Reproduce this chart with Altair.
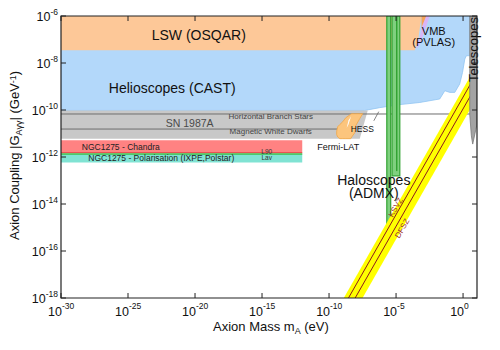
import altair as alt
import numpy as np
import pandas as pd

FONT = "Liberation Sans"
W, H = 416, 282
LOGM_MAX = 1.04

# ---------------- axis tick labels ----------------
x_tick_exp = [-30, -25, -20, -15, -10, -5, 0]
y_tick_exp = [-6, -8, -10, -12, -14, -16, -18]
tick_base = "10"

# ---------------- regions: log10(m_A / eV), log10(g / GeV^-1) ----------------
# Helioscopes (CAST)
cast_m = [-30, -7.34, -6.22, -4.72, -3.23, -1.74, -1.36, -0.99, -0.62, -0.25, -0.04, 0.13, 0.25, 0.50]
cast_hi = [-6] * 14
cast_lo = [-10.02, -10.02, -9.90, -9.77, -9.68, -9.53, -9.18, -9.25, -9.25, -8.89, -8.40, -7.83, -7.69, -7.69]
# LSW (OSQAR)
osqar_m = [-30, -3.60, -3.36, -3.10]
osqar_hi = [-6, -6, -6, -6]
osqar_lo = [-7.46, -7.46, -7.05, -6.0]
# darker LSW sliver
alps_m = [-3.10, -3.00, -2.75]
alps_hi = [-6, -6, -6]
alps_lo = [-6.50, -6.35, -6.0]
# VMB (PVLAS)
vmb_m = [-3.48, -3.23, -2.91, -2.48]
vmb_hi = [-7.33, -6.90, -6.0, -6.0]
vmb_lo = [-7.40, -7.20, -6.70, -6.0]
# SN 1987A
sn_m = [-30, -7.71, -7.11]
sn_hi = [-10.02, -10.02, -10.02]
sn_lo = [-11.22, -11.22, -10.02]
# star limits (lines)
hb_g = -10.17
mwd_g = -10.81
mwd_m_end = -9.2
# NGC1275
chandra_m = [-30, -12.0]
chandra_g = [-11.29, -11.82]
pol_g = [-11.87, -12.23]
# Fermi-LAT
fermi_m = [-9.43, -9.35, -9.20, -8.98, -8.75, -8.38, -8.31, -8.08, -8.01, -7.71, -7.49]
fermi_hi = [-10.90, -10.71, -10.62, -10.50, -10.33, -10.18, -10.16, -10.16, -10.16, -10.16, -10.16]
fermi_lo = [-11.05, -11.15, -11.22, -11.22, -11.22, -11.22, -11.15, -10.97, -10.67, -10.37, -10.16]
# HESS
hess_m = [-8.68, -8.55, -8.35]
hess_hi = [-10.75, -10.45, -10.27]
hess_lo = [-10.75, -10.62, -10.27]
hess_lead_m = [-6.66, -6.29]
hess_lead_g = [-10.46, -10.07]
# Haloscopes (ADMX)
admx_m1 = [-5.69, -5.30]
admx_m2 = [-5.40, -4.72]
admx_top = [-6.0, -6.0]
admx_bot = [-15.1, -12.8]
admx_stripe_m = -4.95
# QCD axion band and models
band_m = [-9.2, 1.04]
band_hi = [-18.3, -8.06]
band_lo = [-19.7, -9.46]
ksvz_m = [-8.6, 1.04]
ksvz_g = [-18.05, -8.41]
dfsz_m = [-8.1, 1.04]
dfsz_g = [-18.05, -8.91]
# Telescopes
tel_m = [0.50, 0.62, 0.72, 1.04]
tel_hi = [-6, -6, -6, -6]
tel_lo = [-10.2, -11.1, -11.45, -10.6]

# labels: text, log m, log g, size, colour, angle
labels = [
    ("LSW (OSQAR)", -19.72, -6.84, 14, "#111111", 0),
    ("Helioscopes (CAST)", -21.70, -9.09, 14, "#111111", 0),
    ("SN 1987A", -20.40, -10.58, 10.5, "#4a4a4a", 0),
    ("Horizontal Branch Stars", -14.35, -10.31, 8, "#444444", 0),
    ("Magnetic White Dwarfs", -14.35, -10.94, 8, "#444444", 0),
    ("NGC1275 - Chandra", -25.54, -11.58, 8.5, "#222222", 0),
    ("NGC1275 - Polarisation (IXPE,Polstar)", -22.52, -12.05, 8.5, "#222222", 0),
    ("L90", -14.65, -11.80, 6.5, "#333333", 0),
    ("Lav", -14.65, -12.06, 6.5, "#333333", 0),
    ("Fermi-LAT", -9.31, -11.56, 9, "#111111", 0),
    ("HESS", -7.52, -10.80, 8.5, "#111111", 0),
    ("VMB", -2.19, -6.70, 11, "#111111", 0),
    ("(PVLAS)", -2.19, -7.17, 11, "#111111", 0),
    ("Haloscopes", -6.66, -13.01, 14, "#111111", 0),
    ("(ADMX)", -6.66, -13.56, 14, "#111111", 0),
    ("KSVZ", -4.99, -14.16, 8, "#9a3030", 300),
    ("DFSZ", -4.50, -15.05, 8, "#9a3030", 300),
    ("Telescopes", 0.84, -7.43, 13, "#111111", 270),
]

# ---------------- helpers ----------------
def P(v):
    return [10.0 ** a for a in v]

xs = alt.Scale(type="log", domain=[1e-30, 10 ** LOGM_MAX], nice=False)
ys = alt.Scale(type="log", domain=[1e-18, 1e-6], nice=False)

def X(f):
    return alt.X(f, type="quantitative", scale=xs, axis=None)

def Y(f):
    return alt.Y(f, type="quantitative", scale=ys, axis=None)

def area(m, hi, lo, fill, stroke=None, sw=1.0):
    df = pd.DataFrame({"m": P(m), "hi": P(hi), "lo": P(lo)})
    kw = dict(fill=fill, clip=True, orient="vertical", interpolate="linear")
    if stroke:
        kw.update(stroke=stroke, strokeWidth=sw)
    else:
        kw.update(strokeWidth=0)
    return alt.Chart(df).mark_area(**kw).encode(x=X("m"), y=Y("hi"), y2=alt.Y2("lo"))

def rect(m1, m2, g1, g2, fill, stroke=None, sw=1.0):
    df = pd.DataFrame({"m1": P(m1), "m2": P(m2), "g1": P(g1), "g2": P(g2)})
    kw = dict(fill=fill, clip=True)
    if stroke:
        kw.update(stroke=stroke, strokeWidth=sw)
    return alt.Chart(df).mark_rect(**kw).encode(x=X("m1"), x2=alt.X2("m2"), y=Y("g1"), y2=alt.Y2("g2"))

def hrule(m1, m2, g, color, sw):
    df = pd.DataFrame({"m1": P([m1]), "m2": P([m2]), "g": P([g])})
    return alt.Chart(df).mark_rule(color=color, strokeWidth=sw, clip=True).encode(
        x=X("m1"), x2=alt.X2("m2"), y=Y("g"))

def line(m, g, color, sw):
    df = pd.DataFrame({"m": P(m), "g": P(g)})
    return alt.Chart(df).mark_line(color=color, strokeWidth=sw, clip=True).encode(x=X("m"), y=Y("g"))

ONE = pd.DataFrame({"k": [0]})

def vtext(txt, px, py, size, angle=0, align="left", baseline="alphabetic", color="#000000"):
    return alt.Chart(ONE).mark_text(
        text=txt, font=FONT, fontSize=size, angle=angle, align=align,
        baseline=baseline, color=color).encode(x=alt.value(px), y=alt.value(py))

# Helvetica-like advance widths (per 1000 em) for laying out composite titles
AFM = {"A": 667, "x": 500, "i": 222, "o": 556, "n": 556, " ": 278, "C": 722, "u": 556,
       "p": 556, "l": 222, "g": 556, "|": 260, "G": 778, "(": 333, ")": 333, "e": 556,
       "V": 667, "-": 333, "M": 833, "a": 556, "s": 500, "m": 833, "γ": 500}
for d in "0123456789":
    AFM[d] = 556

def tw(s, size):
    return sum(AFM.get(c, 556) for c in s) * size / 1000.0

layers = []

# ---------------- regions ----------------
layers.append(area(cast_m, cast_hi, cast_lo, "#b3d8fa", "#92c5f2", 0.8))
layers.append(area(vmb_m, vmb_hi, vmb_lo, "#d9b5f7"))
layers.append(area(osqar_m, osqar_hi, osqar_lo, "#fdc898"))
layers.append(area(alps_m, alps_hi, alps_lo, "#f6a55a"))
layers.append(area(sn_m, sn_hi, sn_lo, "#c8c8c8"))
layers.append(hrule(-30, LOGM_MAX, hb_g, "#6e6e6e", 1))
layers.append(hrule(-30, mwd_m_end, mwd_g, "#6e6e6e", 1))
layers.append(rect([chandra_m[0]], [chandra_m[1]], [chandra_g[0]], [chandra_g[1]], "#ff8282"))
layers.append(rect([chandra_m[0]], [chandra_m[1]], [pol_g[0]], [pol_g[1]], "#80e3d3"))
layers.append(hrule(chandra_m[0], chandra_m[1], chandra_g[1], "#e03a3a", 1.2))
layers.append(hrule(chandra_m[0], chandra_m[1], pol_g[0], "#3cbf4a", 1.5))
layers.append(area(fermi_m, fermi_hi, fermi_lo, "#fcc57d", "#f3a745", 0.8))
layers.append(area(hess_m, hess_hi, hess_lo, "#ffffff"))
layers.append(rect(admx_m1, admx_m2, admx_top, admx_bot, "#7fd07f", "#33a333", 1.2))
layers.append(alt.Chart(pd.DataFrame({"m": P([admx_stripe_m]), "g1": P([-6.0]), "g2": P([-12.6])}))
              .mark_rule(color="#33a333", strokeWidth=1.5, clip=True)
              .encode(x=X("m"), y=Y("g1"), y2=alt.Y2("g2")))
layers.append(area(band_m, band_hi, band_lo, "#ffff00"))
layers.append(line(ksvz_m, ksvz_g, "#8e1b1b", 1))
layers.append(line(dfsz_m, dfsz_g, "#8e1b1b", 1))
layers.append(area(tel_m, tel_hi, tel_lo, "#a3a3a3", "#7a7a7a", 0.8))
layers.append(alt.Chart(pd.DataFrame({"m1": P([hess_lead_m[0]]), "m2": P([hess_lead_m[1]]),
                                      "g1": P([hess_lead_g[0]]), "g2": P([hess_lead_g[1]])}))
              .mark_rule(color="#666666", strokeWidth=0.8)
              .encode(x=X("m1"), x2=alt.X2("m2"), y=Y("g1"), y2=alt.Y2("g2")))

# ---------------- region labels ----------------
lab = pd.DataFrame(labels, columns=["text", "lm", "lg", "fs", "col", "ang"])
lab["m"] = 10.0 ** lab["lm"]
lab["g"] = 10.0 ** lab["lg"]
layers.append(alt.Chart(lab).mark_text(font=FONT, align="center", baseline="middle").encode(
    x=X("m"), y=Y("g"), text="text:N",
    size=alt.Size("fs:Q", scale=None), color=alt.Color("col:N", scale=None),
    angle=alt.Angle("ang:Q", scale=None)))

# ---------------- frame and inward ticks ----------------
layers.append(alt.Chart(ONE).mark_rect(filled=False, stroke="#222222", strokeWidth=1.2).encode(
    x=alt.value(0), x2=alt.value(W), y=alt.value(0), y2=alt.value(H)))
xt = pd.DataFrame({"v": [10.0 ** e for e in x_tick_exp], "e": [str(e) for e in x_tick_exp]})
yt = pd.DataFrame({"v": [10.0 ** e for e in y_tick_exp], "e": [str(e) for e in y_tick_exp]})
TK = 5
for (a, b) in [(H, H - TK), (0, TK)]:
    layers.append(alt.Chart(xt).mark_rule(color="#222222", strokeWidth=1).encode(
        x=X("v"), y=alt.value(a), y2=alt.value(b)))
for (a, b) in [(0, TK), (W, W - TK)]:
    layers.append(alt.Chart(yt).mark_rule(color="#222222", strokeWidth=1).encode(
        y=Y("v"), x=alt.value(a), x2=alt.value(b)))

# ---------------- tick labels (10 with superscript exponent) ----------------
BASE_FS, EXP_FS = 12.5, 8.5
layers.append(alt.Chart(xt).mark_text(text=tick_base, font=FONT, fontSize=BASE_FS, align="right",
                                      baseline="alphabetic", dx=1, color="#111111").encode(
    x=X("v"), y=alt.value(H + 18)))
layers.append(alt.Chart(xt).mark_text(font=FONT, fontSize=EXP_FS, align="left",
                                      baseline="alphabetic", dx=1, color="#111111").encode(
    x=X("v"), y=alt.value(H + 11), text="e:N"))
layers.append(alt.Chart(yt).mark_text(font=FONT, fontSize=EXP_FS, align="right",
                                      baseline="alphabetic", dy=-1.5, color="#111111").encode(
    y=Y("v"), x=alt.value(-3), text="e:N"))
for nchar in sorted(set(len(str(e)) for e in y_tick_exp)):
    sub = yt[yt["e"].str.len() == nchar]
    w = tw(sub["e"].iloc[0], EXP_FS)
    layers.append(alt.Chart(sub).mark_text(text=tick_base, font=FONT, fontSize=BASE_FS, align="right",
                                           baseline="alphabetic", dy=4.5, color="#111111").encode(
        y=Y("v"), x=alt.value(-3 - w)))

# ---------------- axis titles (composite, with sub/superscripts) ----------------
TF, SF = 13, 9
# x title
x0, yb = 152, 315
parts = [("Axion Mass m", TF, 0, 0), ("A", SF, 2.5, 0), ("(eV)", TF, 0, tw(" ", TF))]
cx = x0
for s, fs, sh, gap in parts:
    cx += gap
    layers.append(vtext(s, cx, yb + sh, fs, color="#111111"))
    cx += tw(s, fs)
# y title (rotated, reading upwards)
xb, y0 = -42, 224
parts = [("Axion Coupling |G", TF, 0), ("Aγγ", SF, 3), ("| (GeV", TF, 0), ("-1", SF, -3.5), (")", TF, 0)]
cy = y0
for s, fs, sh in parts:
    layers.append(vtext(s, xb + sh, cy, fs, angle=270, color="#111111"))
    cy -= tw(s, fs)

chart = alt.layer(*layers).properties(
    width=W, height=H,
    autosize=alt.AutoSizeParams(type="none"),
    padding={"left": 53, "top": 8, "right": 15, "bottom": 44},
).configure_view(stroke=None)

chart.save("out.html", embed_options={"renderer": "svg", "actions": False})
